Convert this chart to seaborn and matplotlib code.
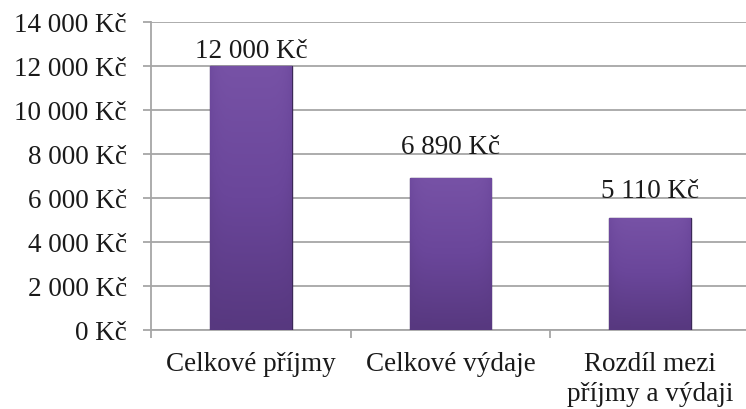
import matplotlib
matplotlib.use("Agg")
import matplotlib.pyplot as plt
import seaborn as sns
import pandas as pd
import numpy as np
from matplotlib.colors import LinearSegmentedColormap

categories = ["Celkové příjmy", "Celkové výdaje", "Rozdíl mezi\npříjmy a výdaji"]
values = [12000, 6890, 5110]
value_labels = ["12 000 Kč", "6 890 Kč", "5 110 Kč"]
y_ticks = [0, 2000, 4000, 6000, 8000, 10000, 12000, 14000]
label_offsets_pt = [6.5, 18.5, 14.5]

sns.set_theme(style="white")
plt.rcParams['font.family'] = ['Liberation Serif', 'DejaVu Serif']

FS = 19.5
W, H = 746, 410
fig = plt.figure(figsize=(W / 100, H / 100), dpi=100)
ax = fig.add_axes([151 / W, 79 / H, (750 - 151) / W, 308 / H])

df = pd.DataFrame({"cat": categories, "val": values})
sns.barplot(data=df, x="cat", y="val", color="#62418f", width=0.41, ax=ax,
            saturation=1, edgecolor="#3b2858", linewidth=1.0, zorder=3)

ax.set_xlim(-0.5, 2.5)
ax.set_ylim(0, 14000)
ax.set_xlabel("")
ax.set_ylabel("")

# subtle gradient shading clipped to each bar
cmap = LinearSegmentedColormap.from_list("bar", ["#57387f", "#6a469a", "#7752a6"])
for p in ax.patches:
    x0, y0 = p.get_x(), p.get_y()
    w, h = p.get_width(), p.get_height()
    grad = np.linspace(0, 1, 256).reshape(-1, 1)
    hz = 1 - 0.3 * (np.abs(np.linspace(-1, 1, 64)) ** 6)
    img = grad * hz.reshape(1, -1)
    im = ax.imshow(img, extent=[x0, x0 + w, y0, y0 + h], origin="lower",
                   cmap=cmap, vmin=0, vmax=1, aspect="auto", zorder=3.5,
                   interpolation="bilinear")
    im.set_clip_path(p)
ax.set_xlim(-0.5, 2.5)
ax.set_ylim(0, 14000)

grid_c = "#a6a6a6"
ax.set_yticks(y_ticks)
ax.set_yticklabels([f"{v:,} Kč".replace(",", " ") for v in y_ticks])
ax.yaxis.grid(True, color=grid_c, linewidth=1.3, zorder=0)
ax.set_axisbelow(True)

for s in ["top", "right"]:
    ax.spines[s].set_visible(False)
for s in ["left", "bottom"]:
    ax.spines[s].set_color(grid_c)
    ax.spines[s].set_linewidth(1.3)

ax.tick_params(axis="y", which="major", left=True, length=5.8, width=1.3,
               color=grid_c, labelsize=FS, labelcolor="#1a1a1a", pad=11.5)
ax.tick_params(axis="x", which="major", length=0, labelsize=FS,
               labelcolor="#1a1a1a", pad=15)
for t in ax.get_xticklabels():
    t.set_linespacing(1.25)
ax.set_xticks([-0.5, 0.5, 1.5, 2.5], minor=True)
ax.tick_params(axis="x", which="minor", bottom=True, length=5.8, width=1.3,
               color=grid_c)

for i, (v, lbl) in enumerate(zip(values, value_labels)):
    ax.annotate(lbl, (i, v), xytext=(0, label_offsets_pt[i]),
                textcoords="offset points", ha="center", va="baseline",
                fontsize=FS, color="#1a1a1a", zorder=5)

fig.savefig("out.png", dpi=100)
